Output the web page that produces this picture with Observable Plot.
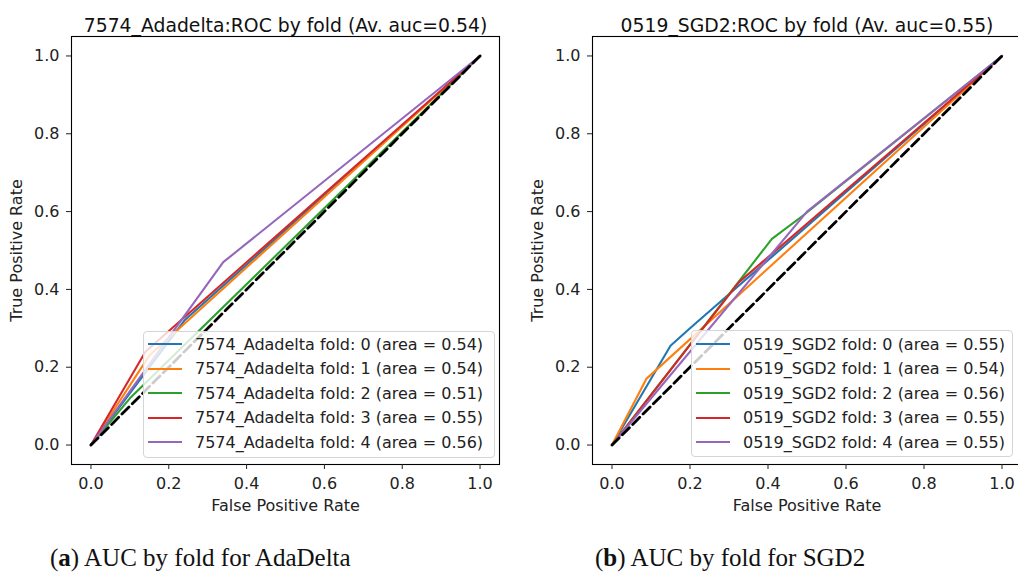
<!DOCTYPE html>
<html>
<head>
<meta charset="utf-8">
<script src="https://cdn.jsdelivr.net/npm/d3@7"></script>
<script src="https://cdn.jsdelivr.net/npm/@observablehq/plot@0.6"></script>
<style>
  html, body { margin: 0; padding: 0; background: white; }
  #root { position: relative; width: 1018px; height: 576px; overflow: hidden; background: white; font-family: "DejaVu Sans", sans-serif; }
  .panel { position: absolute; top: 0; }
  .legend { position: absolute; box-sizing: border-box; border: 1px solid #d5d5d5; border-radius: 4px; background: rgba(255,255,255,0.8); font-family: "DejaVu Sans", sans-serif; font-size: 16px; color: #222; }
  .legend .row { position: absolute; left: 0; height: 20px; display: flex; align-items: center; white-space: nowrap; }
  .legend .sw { display: inline-block; height: 2.2px; }
  .caption { position: absolute; top: 544px; font-family: "Liberation Serif", serif; font-size: 25px; color: #111; white-space: nowrap; }
</style>
</head>
<body>
<div id="root"></div>
<script>
// ---------- data ----------
const folds = [0, 1, 2, 3, 4];
const tickVals = [0.0, 0.2, 0.4, 0.6, 0.8, 1.0];
const chanceLine = [0, 1];

const adaName = "7574_Adadelta";
const adaAvgAuc = 0.54;
const adaAuc = [0.54, 0.54, 0.51, 0.55, 0.56];
const adaFpr = [[0, 0.24, 1], [0, 0.15, 1], [0, 0.10, 1], [0, 0.14, 1], [0, 0.34, 1]];
const adaTpr = [[0, 0.32, 1], [0, 0.23, 1], [0, 0.12, 1], [0, 0.24, 1], [0, 0.47, 1]];

const sgdName = "0519_SGD2";
const sgdAvgAuc = 0.55;
const sgdAuc = [0.55, 0.54, 0.56, 0.55, 0.55];
const sgdFpr = [[0, 0.15, 0.20, 1], [0, 0.088, 1], [0, 0.41, 0.49, 1], [0, 0.325, 1], [0, 0.50, 1]];
const sgdTpr = [[0, 0.255, 0.30, 1], [0, 0.17, 1], [0, 0.53, 0.59, 1], [0, 0.418, 1], [0, 0.60, 1]];

const captionA = ["a", "AUC by fold for AdaDelta"];
const captionB = ["b", "AUC by fold for SGD2"];

// ---------- styles ----------
const palette = ["#1f77b4", "#ff7f0e", "#2ca02c", "#d62728", "#9467bd"];

function rows(fpr, tpr) {
  const out = [];
  folds.forEach((f, i) => fpr[i].forEach((x, j) => out.push({fold: f, fpr: x, tpr: tpr[i][j]})));
  return out;
}

function panel({name, avg, auc, fpr, tpr, left, width, marginLeft, marginRight, legendBox}) {
  const data = rows(fpr, tpr);
  const chance = chanceLine.map(v => ({fpr: v, tpr: v}));
  const svg = Plot.plot({
    width, height: 520,
    marginLeft, marginRight, marginTop: 36, marginBottom: 56,
    style: {fontFamily: "DejaVu Sans, sans-serif", fontSize: "16px", color: "#222", background: "transparent", overflow: "visible"},
    x: {domain: [-0.05, 1.05]},
    y: {domain: [-0.05, 1.05]},
    color: {domain: folds, range: palette},
    marks: [
      Plot.line(data, {x: "fpr", y: "tpr", z: "fold", stroke: "fold", strokeWidth: 2.1, strokeLinejoin: "round"}),
      Plot.line(chance, {x: "fpr", y: "tpr", stroke: "black", strokeWidth: 2.8, strokeDasharray: "10,4.6"}),
      Plot.frame({stroke: "black", strokeWidth: 1.1}),
      Plot.axisX({ticks: tickVals, tickFormat: d3.format(".1f"), tickSize: 5, tickPadding: 8, fontSize: 16,
        label: "False Positive Rate", labelAnchor: "center", labelArrow: "none", labelOffset: 46}),
      Plot.axisY({ticks: tickVals, tickFormat: d3.format(".1f"), tickSize: 5, tickPadding: 7, fontSize: 16,
        label: "True Positive Rate", labelAnchor: "center", labelArrow: "none", labelOffset: 61}),
      Plot.text([`${name}:ROC by fold (Av. auc=${avg.toFixed(2)})`], {frameAnchor: "top", dy: -18, fontSize: 18.8, fill: "#111"})
    ]
  });
  svg.classList.add("panel");
  svg.style.left = left + "px";
  document.getElementById("root").appendChild(svg);

  // legend
  const lg = document.createElement("div");
  lg.className = "legend";
  Object.assign(lg.style, {left: legendBox.x + "px", top: legendBox.y + "px", width: legendBox.w + "px", height: legendBox.h + "px"});
  folds.forEach((f, i) => {
    const r = document.createElement("div");
    r.className = "row";
    r.style.top = (legendBox.row0 - legendBox.y - 10 + i * 24.6) + "px";
    r.style.left = "4px";
    const sw = document.createElement("span");
    sw.className = "sw";
    sw.style.width = "34px";
    sw.style.background = palette[i];
    sw.style.marginRight = "13px";
    const t = document.createElement("span");
    t.textContent = `${name} fold: ${f} (area = ${auc[i].toFixed(2)})`;
    r.appendChild(sw); r.appendChild(t);
    lg.appendChild(r);
  });
  document.getElementById("root").appendChild(lg);
}

panel({name: adaName, avg: adaAvgAuc, auc: adaAuc, fpr: adaFpr, tpr: adaTpr,
  left: 0, width: 509, marginLeft: 71, marginRight: 10,
  legendBox: {x: 143, y: 331, w: 352, h: 127, row0: 343}});
panel({name: sgdName, avg: sgdAvgAuc, auc: sgdAuc, fpr: sgdFpr, tpr: sgdTpr,
  left: 509, width: 520, marginLeft: 83, marginRight: 8,
  legendBox: {x: 691, y: 330, w: 322, h: 127, row0: 343}});

function caption(c, x) {
  const d = document.createElement("div");
  d.className = "caption";
  d.style.left = x + "px";
  d.innerHTML = `(<b>${c[0]}</b>) ${c[1]}`;
  document.getElementById("root").appendChild(d);
}
caption(captionA, 50);
caption(captionB, 595);
</script>
</body>
</html>
